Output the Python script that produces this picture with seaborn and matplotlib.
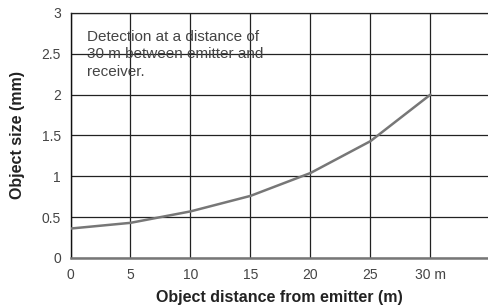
import matplotlib
matplotlib.use("Agg")
import matplotlib.pyplot as plt
import seaborn as sns
import pandas as pd

# values
distance_m = [0, 5, 7.5, 10, 15, 20, 25, 30]
object_size_mm = [0.36, 0.43, 0.50, 0.57, 0.76, 1.04, 1.43, 2.0]

x_ticks = [0, 5, 10, 15, 20, 25, 30]
x_tick_labels = ["0", "5", "10", "15", "20", "25", "30 m"]
y_ticks = [0, 0.5, 1, 1.5, 2, 2.5, 3]
y_tick_labels = ["0", "0.5", "1", "1.5", "2", "2.5", "3"]

note = "Detection at a distance of\n30 m between emitter and\nreceiver."

df = pd.DataFrame({"distance": distance_m, "size": object_size_mm})

sns.set_style("white")
plt.rcParams["font.family"] = ["Liberation Sans", "DejaVu Sans"]

fig = plt.figure(figsize=(4.88, 3.06), dpi=100)
ax = fig.add_axes([0.1445, 0.157, 0.8555, 0.8007])

sns.lineplot(data=df, x="distance", y="size", ax=ax, color="#777777", linewidth=1.8, zorder=3)

ax.set_xlim(0, 34.8)
ax.set_ylim(0, 3)
ax.set_xticks(x_ticks)
ax.set_xticklabels(x_tick_labels)
ax.set_yticks(y_ticks)
ax.set_yticklabels(y_tick_labels)
ax.tick_params(length=0, labelsize=10, colors="#444444", pad=7)
ax.tick_params(axis="y", pad=7)

ax.grid(True, color="#222222", linewidth=0.9)
ax.set_axisbelow(True)

ax.spines["right"].set_visible(False)
ax.spines["top"].set_color("#222222")
ax.spines["top"].set_linewidth(0.9)
ax.spines["left"].set_color("#111111")
ax.spines["left"].set_linewidth(1.0)
ax.spines["bottom"].set_color("#777777")
ax.spines["bottom"].set_linewidth(1.8)

ax.set_xlabel("Object distance from emitter (m)", fontsize=11.5, fontweight="bold", color="#222222", labelpad=6)
ax.set_ylabel("Object size (mm)", fontsize=11.5, fontweight="bold", color="#222222", labelpad=12)

ax.text(1.4, 2.79, note, fontsize=11, color="#444444", va="top", ha="left", linespacing=1.3)

fig.savefig("out.png", dpi=100)
plt.close(fig)
